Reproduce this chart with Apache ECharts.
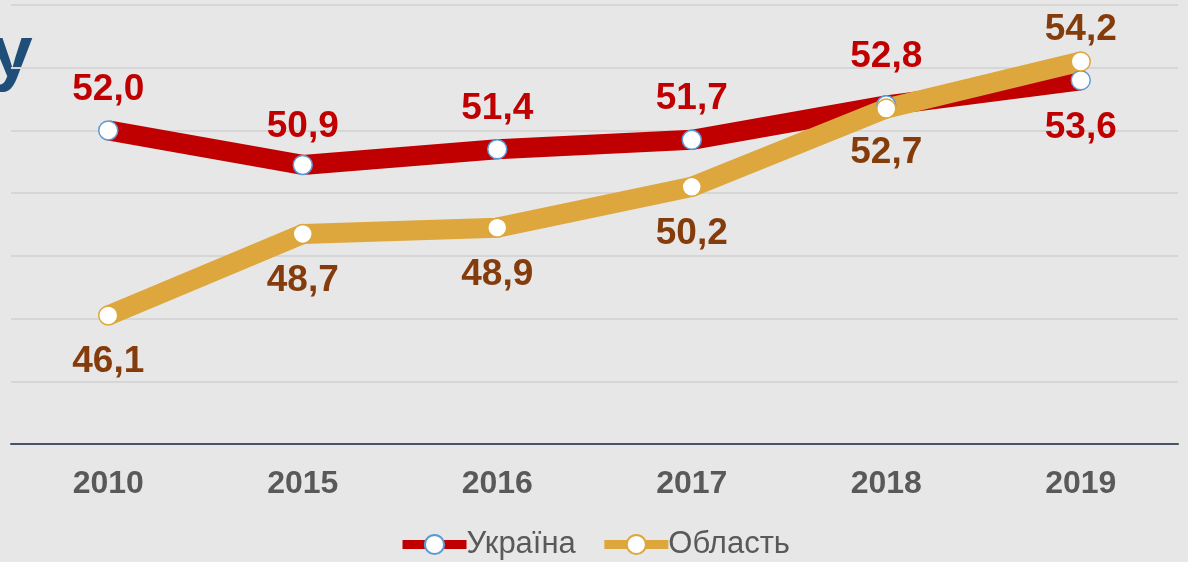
<!DOCTYPE html>
<html>
<head>
<meta charset="utf-8">
<script src="https://cdn.jsdelivr.net/npm/echarts@6/dist/echarts.min.js"></script>
<style>
  html, body { margin: 0; padding: 0; background: #E7E7E7; }
  #chart { width: 1188px; height: 562px; }
</style>
</head>
<body>
<div id="chart"></div>
<script>
const years = ['2010', '2015', '2016', '2017', '2018', '2019'];
const ukraine = [52.0, 50.9, 51.4, 51.7, 52.8, 53.6];
const oblast = [46.1, 48.7, 48.9, 50.2, 52.7, 54.2];

const font = 'Arial';
const fmt = p => p.value.toFixed(1).replace('.', ',');

// label side and gap per point (last point flips side, 2018 label sits higher)
function withLabels(values, normal, last, gaps) {
  return values.map((v, i) => ({
    value: v,
    label: { position: i === values.length - 1 ? last : normal, distance: gaps[i] }
  }));
}

const chart = echarts.init(document.getElementById('chart'), null, { renderer: 'canvas' });
const option = {
  backgroundColor: '#E7E7E7',
  textStyle: { fontFamily: font },
  graphic: [{
    type: 'text',
    left: -9,
    top: 19,
    style: { text: 'у', font: 'bold 75px Arial', fill: '#1F4E79' }
  }],
  legend: {
    bottom: -3,
    left: 'center',
    itemWidth: 64,
    itemHeight: 24,
    itemGap: 24,
    lineStyle: { width: 9 },
    textStyle: { fontSize: 31, color: '#595959', fontFamily: font, padding: [0, 0, 0, -5] },
    data: ['Україна', 'Область']
  },
  grid: { left: 11, right: 10, top: 5, bottom: 118 },
  xAxis: {
    type: 'category',
    data: years,
    axisLine: { lineStyle: { color: '#44546A', width: 2 } },
    axisTick: { show: false },
    axisLabel: { fontSize: 32, fontWeight: 'bold', color: '#595959', margin: 24, fontFamily: font }
  },
  yAxis: {
    type: 'value',
    min: 42,
    max: 56,
    interval: 2,
    axisLabel: { show: false },
    axisLine: { show: false },
    axisTick: { show: false },
    splitLine: { lineStyle: { color: '#D6D6D6', width: 2 } }
  },
  series: [
    {
      name: 'Україна',
      type: 'line',
      data: withLabels(ukraine, 'top', 'bottom', [12, 9, 12, 12, 20, 19]),
      symbol: 'circle',
      symbolSize: 19,
      lineStyle: { color: '#C00000', width: 20 },
      itemStyle: { color: '#FFFFFF', borderColor: '#5B9BD5', borderWidth: 1.5 },
      label: {
        show: true, formatter: fmt,
        fontSize: 37, fontWeight: 'bold', color: '#C00000', fontFamily: font
      }
    },
    {
      name: 'Область',
      type: 'line',
      data: withLabels(oblast, 'bottom', 'top', [18, 18, 18, 18, 16, 3]),
      symbol: 'circle',
      symbolSize: 19,
      lineStyle: { color: '#DDA73D', width: 20 },
      itemStyle: { color: '#FFFFFF', borderColor: '#DDA73D', borderWidth: 1.5 },
      label: {
        show: true, formatter: fmt,
        fontSize: 37, fontWeight: 'bold', color: '#843C0C', fontFamily: font
      }
    }
  ]
};
option && chart.setOption(option);
</script>
</body>
</html>
